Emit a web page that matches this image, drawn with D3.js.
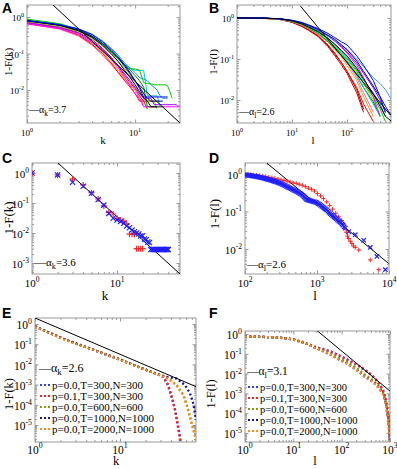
<!DOCTYPE html>
<html>
<head>
<meta charset="utf-8">
<script src="https://cdn.jsdelivr.net/npm/d3@7"></script>
<style>
  body { margin: 0; background: #fff; }
  svg { display: block; }
  text { font-family: "Liberation Serif", "Times New Roman", serif; fill: #000; }
  .letter { font-family: "Liberation Sans", Arial, sans-serif; font-weight: bold; }
</style>
</head>
<body>
<div id="chart"></div>
<script>
// ---------- data ----------
// panel A: 1-F(k) for each network, value at k = 1, 2, 3, ...
const aColors = ["#ff6699", "#ff0000", "#cc0033", "#ff9900", "#99cc00", "#9900ff", "#ff00ff",
  "#00cccc", "#0099ff", "#008000", "#00cc00", "#000099", "#000000", "#0000ff"];
const aSeries = [
  [.66, .47, .30, .17, .09, .05, .03, .02, .014, .010, .006, .004],
  [.70, .50, .32, .18, .10, .055, .03, .018, .012, .008, .005, .005, .003],
  [.72, .54, .38, .24, .14, .08, .045, .025, .016, .011, .007, .005, .005, .005, .005],
  [.72, .52, .34, .20, .11, .06, .035, .02, .014, .010, .008, .006, .005, .005, .005, .005, .005],
  [.75, .56, .40, .26, .16, .10, .06, .04, .026, .018, .012, .008, .005, .005, .005, .003],
  [.70, .52, .36, .22, .13, .075, .045, .028, .018, .012, .008, .006, .006, .006, .004, .004, .004, .004, .004, .004, .004, .004, .004, .004, .0035],
  [.65, .48, .33, .20, .12, .07, .04, .022, .013, .008, .006, .0035, .0035, .0035, .0035, .0035, .0035, .0035, .0035, .0035, .0035, .0035, .0035, .0035, .0035, .0035],
  [.80, .60, .42, .27, .17, .11, .07, .05, .04, .035, .035, .034, .007, .007, .007, .007, .0035],
  [.82, .64, .48, .34, .22, .14, .09, .055, .04, .03, .022, .02, .018, .014, .012, .010, .007, .006, .006, .006],
  [.82, .63, .46, .30, .19, .12, .075, .05, .035, .025, .018, .012, .0035, .0035, .0035, .0035, .0035, .0035],
  [.88, .66, .45, .30, .18, .11, .07, .045, .038, .038, .035, .016, .015, .015, .014, .014, .014, .014, .014, .013, .009, .006],
  [.78, .60, .44, .30, .19, .12, .075, .045, .028, .018, .012, .008, .006, .005, .005, .005, .005, .005],
  [.80, .60, .42, .28, .17, .10, .06, .035, .022, .014, .009, .006, .005, .0035, .0035, .0035],
  [.80, .62, .47, .33, .21, .13, .08, .05, .03, .018, .011, .0065, .0065, .0065, .0065, .0065, .0065, .0065, .0065, .0065]
];
const fitA = [[1.74, 2.14], [26, 0.00126]];

// panel B: 1-F(l) at these l values
const bL = [1, 3, 6, 10, 15, 20, 30, 45, 60, 80, 100, 150, 200, 300, 400, 500, 650];
const bColors = ["#990000", "#ff0000", "#cc0000", "#ff66cc", "#ff9900", "#99cc00", "#008800", "#00cccc",
  "#009999", "#00cc00", "#ff00ff", "#8800ff", "#3399ff", "#000099", "#0000ff", "#000000"];
const bSeries = [
  [1, .98, .92, .79, .64, .51, .36, .21, .13, .08, .05, .018, .006],
  [1, .98, .93, .80, .65, .52, .37, .22, .14, .08, .05, .02, .008, .003],
  [1, .98, .92, .78, .62, .50, .35, .20, .12, .07, .045, .015, .005],
  [1, .98, .93, .81, .67, .55, .40, .26, .18, .12, .08, .035, .015, .005],
  [1, .98, .94, .82, .68, .55, .40, .26, .17, .11, .07, .03, .012, .004],
  [1, .99, .94, .82, .69, .56, .41, .27, .19, .13, .09, .045, .025, .010, .004],
  [1, .99, .94, .83, .70, .57, .42, .27, .18, .12, .085, .04, .02, .009, .004],
  [1, .99, .94, .83, .70, .58, .42, .28, .20, .13, .09, .04, .02, .008, .004],
  [1, .99, .95, .85, .73, .62, .47, .32, .22, .15, .11, .055, .03, .015, .008, .004],
  [1, .99, .95, .84, .72, .60, .45, .30, .20, .14, .10, .05, .025, .012, .006, .003],
  [1, .99, .95, .85, .74, .63, .50, .36, .27, .19, .14, .07, .035, .012, .004],
  [1, .99, .95, .86, .75, .64, .50, .37, .28, .20, .15, .08, .045, .02, .010, .005],
  [1, .99, .95, .86, .74, .64, .50, .36, .28, .21, .17, .10, .065, .035, .025, .018, .010],
  [1, .99, .96, .87, .76, .66, .52, .38, .30, .22, .17, .09, .05, .022, .012, .007, .004],
  [1, .99, .96, .88, .78, .68, .55, .42, .33, .26, .22, .12, .07, .03, .012, .005],
  [1, .99, .95, .85, .72, .60, .46, .32, .23, .16, .12, .06, .033, .014, .007, .004, .003]
];
const fitB = [[14.2, 1.96], [615, 0.0043]];

// panel C: [k, 1-F(k)]
const cRed = [[1, 1.0], [2, .86], [3, .62], [4, .40], [5, .22], [6, .136], [7, .08], [8, .049], [9, .043],
  [10, .031], [11, .027], [12, .025], [13, .02], [14, .0091], [15, .0091], [16, .0091],
  [17, .003], [18, .003], [19, .003], [20, .003]];
const cBlue = [[1, 1.0], [2, .86], [3, .49], [4, .36], [5, .21], [6, .13], [7, .085], [8, .045], [9, .031],
  [10, .027], [11, .024], [12, .021], [13, .017], [14, .015], [15, .0125], [16, .011], [17, .010],
  [18, .0093], [19, .008], [20, .0081], [21, .0063], [22, .006], [23, .005], [24, .0048],
  [25, .0028], [26, .0028], [27, .0028], [28, .0028], [29, .0028], [30, .0028], [31, .0028], [32, .0028],
  [33, .0028], [34, .0028], [35, .0028], [36, .0028], [37, .0028], [38, .0028], [39, .0028], [40, .0028]];
const fitC = [[2.02, 2.15], [55, 0.00043]];

// panel D: [l, 1-F(l)]
const dRed = [[100, 1.0], [110, .98], [120, .96], [132, .94], [145, .92], [160, .90], [176, .88], [194, .85],
  [214, .82], [236, .79], [260, .76], [287, .73], [316, .70], [348, .67], [384, .64], [423, .61],
  [466, .58], [514, .56], [566, .53], [624, .50], [688, .46], [758, .42], [835, .39], [920, .35],
  [1015, .30], [1120, .26], [1230, .22], [1360, .18], [1500, .145], [1650, .115], [1820, .09],
  [2000, .072], [2200, .057], [2350, .046], [2450, .035], [2550, .028], [2650, .022], [2750, .019],
  [2900, .016], [3050, .014], [3200, .012], [3400, .011], [3800, .0094], [5500, .0051], [7200, .0028]];
const dBlue = [[100, .95], [104, .94], [108, .93], [112, .92], [116, .91], [120, .90], [125, .89], [130, .88],
  [135, .87], [140, .86], [145, .85], [150, .835], [156, .82], [162, .81], [168, .80], [175, .785],
  [182, .77], [189, .755], [196, .74], [204, .725], [212, .71], [220, .695], [228, .68], [237, .665],
  [246, .65], [256, .635], [266, .62], [276, .605], [287, .59], [298, .575], [310, .56], [322, .54],
  [334, .52], [347, .505], [360, .49], [375, .47], [390, .45], [405, .435], [420, .42], [437, .405],
  [455, .39], [472, .375], [490, .36], [508, .35], [527, .34], [548, .325], [570, .31], [592, .295],
  [615, .28], [637, .265], [660, .25], [680, .235], [700, .22], [720, .21], [740, .205], [765, .2],
  [790, .196], [820, .192], [850, .188], [885, .184], [920, .18], [960, .175], [1000, .17], [1040, .162],
  [1080, .155], [1125, .145], [1170, .137], [1215, .13], [1260, .123], [1310, .117], [1360, .11], [1415, .102],
  [1470, .095], [1530, .088], [1590, .082], [1655, .077], [1720, .072], [1785, .068], [1850, .064],
  [1925, .06], [2000, .056], [2075, .053], [2150, .05], [2225, .046], [2300, .043], [2385, .039], [2470, .036],
  [2760, .029], [3400, .024], [4450, .017], [5500, .011], [6800, .0063], [8900, .0028]];
const fitD = [[202, 1.93], [9900, 0.0041]];

// panel E: model runs, [k, 1-F(k)]
const eNames = ["p=0.0,T=300,N=300", "p=0.1,T=300,N=300", "p=0.0,T=600,N=600", "p=0.0,T=1000,N=1000", "p=0.0,T=2000,N=1000"];
const eColors = ["#2a3cff", "#ff2020", "#8a9a10", "#161688", "#ff8c1a"];
const eBlue = [[1, .75], [2, .21], [3, .11], [5, .051], [7, .03], [10, .0175], [15, .0088], [20, .0055],
  [25, .0038], [28, .0032], [32, .0024], [36, .0011], [40, .0003], [44, .00007], [47, .000016], [50, .000004], [52, .0000014]];
const eRed = [[1, .75], [2, .21], [3, .11], [5, .051], [7, .03], [10, .0175], [15, .0088], [20, .0055],
  [25, .0038], [27, .0035], [32.4, .0025], [37, .00095], [40.5, .00025], [44.4, .000055], [47.2, .000012], [49.9, .0000032], [51, .0000015]];
const eOlive = [[1, .75], [2, .21], [3, .11], [5, .051], [7, .03], [10, .0175], [15, .0088], [20, .0055],
  [25, .0038], [30, .0029], [35.4, .0023], [40, .0016], [46.4, .00095], [55.6, .00031], [61, .0001], [66.6, .000026], [71.6, .0000083], [76, .0000035], [78.4, .000002]];
const eNavy = [[1, .75], [2, .21], [3, .11], [5, .051], [7, .03], [10, .0175], [15, .0088], [20, .0055],
  [25, .0038], [30, .0029], [36, .0024], [46.4, .002], [58, .00095], [66.6, .00037], [72.8, .000117], [78.4, .000018]];
const eOrange = [[1, .72], [2, .2], [3, .105], [5, .05], [7, .029], [10, .017], [15, .0086], [20, .0054],
  [25, .0037], [30, .0028], [35.4, .0022], [40, .0015], [46.4, .0009], [55.6, .0003], [61, .00009], [66.6, .000024], [71.6, .0000075], [76, .000003], [78.4, .0000016]];
const eData = [eBlue, eRed, eOlive, eNavy, eOrange];
const fitE = [[1, 1.98], [78.4, 0.00079]];

// panel F: model runs, [l, 1-F(l)]
const fBlue = [[1, .73], [2, .72], [4, .68], [7, .61], [10, .53], [15, .40], [20, .31], [27, .23], [40, .17],
  [60, .13], [90, .08], [133, .049], [200, .029], [300, .015], [400, .009], [480, .0058], [600, .0028],
  [710, .0015], [780, .0007], [840, .00032], [900, .00011], [935, .000046], [970, .000015], [1000, .0000045]];
const fRed = [[1, .73], [2, .72], [4, .68], [7, .61], [10, .53], [15, .41], [20, .32], [27, .235], [40, .175],
  [60, .13], [90, .082], [133, .05], [200, .03], [300, .016], [400, .0095], [480, .006], [600, .003],
  [710, .0016], [780, .0008], [840, .00035], [900, .00012], [935, .00005], [970, .000016], [1000, .000004]];
const fOlive = [[1, .73], [2, .72], [4, .67], [7, .60], [10, .52], [15, .39], [20, .30], [27, .215], [40, .15],
  [60, .10], [90, .06], [133, .036], [200, .02], [300, .009], [400, .0055], [480, .004], [600, .0022],
  [710, .0012], [780, .0006], [840, .00024], [900, .00008], [935, .000035], [970, .000012], [1000, .000004]];
const fNavy = [[1, .73], [2, .72], [4, .67], [7, .60], [10, .52], [15, .39], [20, .30], [27, .21], [40, .14],
  [60, .087], [90, .05], [133, .03], [200, .016], [300, .0069], [400, .0045], [480, .0032], [600, .0018],
  [710, .001], [780, .0005], [840, .0002], [900, .00007], [935, .00003], [970, .00001], [1000, .000004]];
const fOrange = [[1, .74], [2, .73], [4, .67], [7, .60], [10, .52], [15, .39], [20, .30], [27, .21], [40, .14],
  [60, .087], [90, .05], [133, .03], [200, .016], [300, .0068], [400, .0044], [480, .0031], [600, .0017],
  [710, .00095], [780, .00048], [840, .0002], [900, .00007], [935, .00003], [970, .00001], [1000, .0000038]];
const fData = [fBlue, fRed, fOlive, fNavy, fOrange];
const fitF = [[31, 1.47], [1000, 0.0013]];

// ---------- drawing ----------
const svg = d3.select("#chart").append("svg").attr("width", 397).attr("height", 469);

function decades(dom) {
  const out = [];
  for (let e = Math.ceil(Math.log10(dom[0]) - 1e-9); e <= Math.floor(Math.log10(dom[1]) + 1e-9); e++) out.push(e);
  return out;
}
function minors(dom) {
  const out = [];
  for (let e = Math.floor(Math.log10(dom[0])); e <= Math.floor(Math.log10(dom[1])); e++)
    for (let m = 2; m <= 9; m++) {
      const v = m * Math.pow(10, e);
      if (v > dom[0] && v < dom[1]) out.push(v);
    }
  return out;
}
function powText(sel, e, size) {
  sel.append("tspan").text("10");
  sel.append("tspan").attr("dy", -size * 0.45).attr("font-size", size * 0.68).text(e < 0 ? "-" + (-e) : e);
}
function alphaText(sel, sub, rest) {
  sel.append("tspan").text("\u2014\u03b1");
  sel.append("tspan").attr("dy", 3).attr("font-size", "0.75em").text(sub);
  sel.append("tspan").attr("dy", -3).text(rest);
}

function makePanel(o) {
  const x = d3.scaleLog().domain(o.xDomain).range([o.left, o.right]);
  const y = d3.scaleLog().domain(o.yDomain).range([o.bottom, o.top]);
  const g = svg.append("g");
  const cid = "clip" + o.letter;
  svg.append("clipPath").attr("id", cid).append("rect")
    .attr("x", o.left).attr("y", o.top).attr("width", o.right - o.left).attr("height", o.bottom - o.top);

  const xMaj = decades(o.xDomain).map(e => Math.pow(10, e));
  const yMaj = decades(o.yDomain).map(e => Math.pow(10, e));
  const axes = [
    [d3.axisBottom(x), `translate(0,${o.bottom})`, xMaj, minors(o.xDomain)],
    [d3.axisTop(x), `translate(0,${o.top})`, xMaj, minors(o.xDomain)],
    [d3.axisLeft(y), `translate(${o.left},0)`, yMaj, minors(o.yDomain)],
    [d3.axisRight(y), `translate(${o.right},0)`, yMaj, minors(o.yDomain)]
  ];
  axes.forEach(([ax, tr, maj, min]) => {
    g.append("g").attr("transform", tr).call(ax.tickValues(maj).tickSize(-3.5).tickFormat(""));
    g.append("g").attr("transform", tr).call(ax.tickValues(min).tickSize(-2).tickFormat(""));
  });
  g.selectAll(".domain").remove();
  g.selectAll(".tick line").attr("stroke", "#999");
  g.append("rect").attr("x", o.left).attr("y", o.top)
    .attr("width", o.right - o.left).attr("height", o.bottom - o.top)
    .attr("fill", "none").attr("stroke", "#9a9a9a");

  // tick labels
  decades(o.xDomain).forEach(e => {
    g.append("text").attr("x", x(Math.pow(10, e))).attr("y", o.bottom + o.xTickDy)
      .attr("text-anchor", "middle").attr("font-size", o.tickFont)
      .call(powText, e, o.tickFont);
  });
  decades(o.yDomain).forEach(e => {
    g.append("text").attr("x", o.left - 3).attr("y", y(Math.pow(10, e)) + o.tickFont * 0.45)
      .attr("text-anchor", "end").attr("font-size", o.tickFont)
      .call(powText, e, o.tickFont);
  });

  // titles
  g.append("text").attr("x", o.xTitleX).attr("y", o.xTitleY)
    .attr("text-anchor", "middle").attr("font-size", o.titleFont).text(o.xTitle);
  g.append("text").attr("transform", `translate(${o.yTitleX},${o.yTitleY}) rotate(-90)`)
    .attr("text-anchor", "middle").attr("font-size", o.titleFont).text(o.yTitle);
  g.append("text").attr("class", "letter").attr("x", o.letterX).attr("y", o.letterY)
    .attr("font-size", 14).text(o.letter);

  const plot = g.append("g").attr("clip-path", `url(#${cid})`);
  const line = d3.line().defined(d => d[1] != null).x(d => x(d[0])).y(d => y(d[1]));
  return { g, plot, x, y, line };
}

function fitLine(p, fit) {
  p.plot.append("path").attr("d", p.line(fit)).attr("fill", "none")
    .attr("stroke", "#000").attr("stroke-width", 1);
}

// ---- A ----
const pA = makePanel({ letter: "A", letterX: 2, letterY: 13, left: 27, right: 180, top: 5, bottom: 123,
  xDomain: [1, 26], yDomain: [0.00126, 2.14], tickFont: 9, xTickDy: 13, titleFont: 11,
  xTitle: "k", xTitleX: 103, xTitleY: 144, yTitle: "1-F(k)", yTitleX: 12, yTitleY: 62 });
aSeries.forEach((vals, i) => {
  pA.plot.append("path").attr("d", pA.line(vals.map((v, j) => [j + 1, v])))
    .attr("fill", "none").attr("stroke", aColors[i]).attr("stroke-width", 1);
});
fitLine(pA, fitA);
pA.g.append("text").attr("x", 29).attr("y", 113).attr("font-size", 10).call(alphaText, "k", "=3.7");

// ---- B ----
const pB = makePanel({ letter: "B", letterX: 209, letterY: 13, left: 237, right: 391, top: 5, bottom: 123,
  xDomain: [1, 631], yDomain: [0.00275, 2.07], tickFont: 9, xTickDy: 13, titleFont: 11,
  xTitle: "l", xTitleX: 313, xTitleY: 144, yTitle: "1-F(l)", yTitleX: 217, yTitleY: 62 });
bSeries.forEach((vals, i) => {
  pB.plot.append("path").attr("d", pB.line(vals.map((v, j) => [bL[j], v])))
    .attr("fill", "none").attr("stroke", bColors[i]).attr("stroke-width", 1);
});
fitLine(pB, fitB);
pB.g.append("text").attr("x", 239).attr("y", 115).attr("font-size", 10).call(alphaText, "l", "=2.6");

// ---- markers ----
const plusPath = s => `M${-s},0H${s}M0,${-s}V${s}`;
const crossPath = s => `M${-s},${-s}L${s},${s}M${-s},${s}L${s},${-s}`;
function markers(p, data, shape, color, s, w) {
  p.plot.selectAll(null).data(data).join("path")
    .attr("transform", d => `translate(${p.x(d[0])},${p.y(d[1])})`)
    .attr("d", shape(s)).attr("fill", "none").attr("stroke", color).attr("stroke-width", w);
}

// ---- C ----
const pC = makePanel({ letter: "C", letterX: 2, letterY: 163, left: 32, right: 180, top: 163, bottom: 274,
  xDomain: [1, 55], yDomain: [0.00043, 2.15], tickFont: 11, xTickDy: 13, titleFont: 13,
  xTitle: "k", xTitleX: 105, xTitleY: 300, yTitle: "1-F(k)", yTitleX: 13, yTitleY: 218 });
fitLine(pC, fitC);
markers(pC, cRed, plusPath, "#ff2020", 3, 1.2);
markers(pC, cBlue, crossPath, "#2020ff", 2.6, 1.2);
pC.g.append("text").attr("x", 35).attr("y", 266).attr("font-size", 11).call(alphaText, "k", "=3.6");

// ---- D ----
const pD = makePanel({ letter: "D", letterX: 209, letterY: 163, left: 245, right: 389, top: 163, bottom: 274,
  xDomain: [100, 10000], yDomain: [0.00215, 1.96], tickFont: 11, xTickDy: 13, titleFont: 13,
  xTitle: "l", xTitleX: 315, xTitleY: 300, yTitle: "1-F(l)", yTitleX: 219, yTitleY: 214 });
fitLine(pD, fitD);
markers(pD, dRed, plusPath, "#ff2020", 2.2, 1);
markers(pD, dBlue, crossPath, "#2020ff", 2.2, 1.2);
pD.g.append("text").attr("x", 247).attr("y", 268).attr("font-size", 11).call(alphaText, "l", "=2.6");

// ---- E / F legends + dotted curves ----
function dotted(p, data, color) {
  p.plot.append("path").attr("d", p.line(data)).attr("fill", "none").attr("stroke", color)
    .attr("stroke-width", 2.3).attr("stroke-dasharray", "2,2.4");
}
function modelLegend(p, x0, yAlpha, ys, alphaSub, alphaRest, font) {
  p.g.append("text").attr("x", x0).attr("y", yAlpha + 4).attr("font-size", font + 1).call(alphaText, alphaSub, alphaRest);
  eNames.forEach((n, i) => {
    p.g.append("line").attr("x1", x0 + 1).attr("x2", x0 + 12).attr("y1", ys[i]).attr("y2", ys[i])
      .attr("stroke", eColors[i]).attr("stroke-width", 2.2).attr("stroke-dasharray", "2,2");
    p.g.append("text").attr("x", x0 + 13).attr("y", ys[i] + 4).attr("font-size", font).text(n);
  });
}

const pE = makePanel({ letter: "E", letterX: 2, letterY: 318, left: 35, right: 196, top: 318, bottom: 442,
  xDomain: [1, 78.4], yDomain: [1.44e-6, 1.98], tickFont: 11.5, xTickDy: 11.5, titleFont: 12.5,
  xTitle: "k", xTitleX: 116, xTitleY: 465, yTitle: "1-F(k)", yTitleX: 13, yTitleY: 394 });
eData.forEach((d, i) => dotted(pE, d, eColors[i]));
fitLine(pE, fitE);
modelLegend(pE, 39, 368, [385, 396, 407, 418, 429], "k", "=2.6", 11);

const pF = makePanel({ letter: "F", letterX: 209, letterY: 318, left: 245, right: 390, top: 331, bottom: 442,
  xDomain: [1, 1000], yDomain: [3.5e-6, 1.41], tickFont: 11.5, xTickDy: 11.5, titleFont: 12.5,
  xTitle: "l", xTitleX: 315, xTitleY: 465, yTitle: "1-F(l)", yTitleX: 215, yTitleY: 394 });
fData.forEach((d, i) => dotted(pF, d, eColors[i]));
fitLine(pF, fitF);
modelLegend(pF, 247, 371, [387, 398, 409, 420, 431], "l", "=3.1", 10.5);
</script>
</body>
</html>
